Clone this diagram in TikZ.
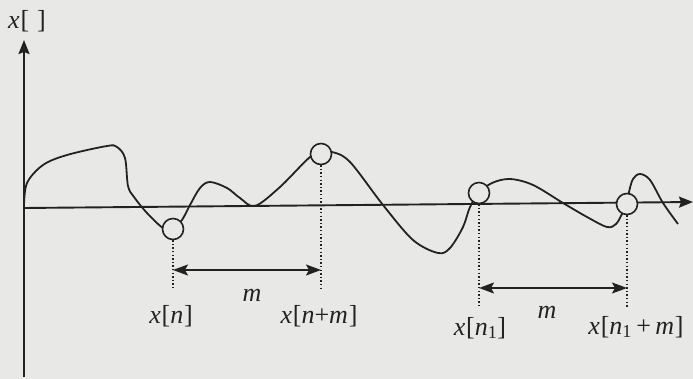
\documentclass[tikz,border=0pt]{standalone}
\usepackage{fontspec}
\setmainfont{Liberation Serif}
\usetikzlibrary{arrows.meta}
\definecolor{paper}{RGB}{232,232,230}
\definecolor{ink}{RGB}{34,34,34}
\newcommand{\vi}[1]{\textit{#1}\kern0.8pt}
\begin{document}
\begin{tikzpicture}[x=1pt,y=-1pt,
  axisline/.style={draw=ink,line width=1.9pt},
  curveline/.style={draw=ink,line width=1.8pt,line join=round},
  sample/.style={circle,draw=ink,line width=1.6pt,fill=paper,minimum size=21pt,inner sep=0pt},
  guide/.style={draw=ink,line width=1.4pt,dash pattern=on 1.4pt off 2.2pt},
  span/.style={draw=ink,line width=1.6pt,{Stealth[length=15pt,width=11pt,inset=3pt]}-{Stealth[length=15pt,width=11pt,inset=3pt]}},
  lab/.style={inner sep=0pt,text=ink,font=\fontsize{26}{30}\selectfont}
]
\fill[paper] (0,0) rectangle (693,379);
\useasboundingbox (0,0) rectangle (693,379);

% axes
\coordinate (o) at (24,208);
\coordinate (ybot) at (24,377);
\coordinate (ytop) at (24,40);
\coordinate (xend) at (693,202);
\draw[axisline,-{Stealth[length=14pt,width=11pt,inset=2pt]}] (ybot) -- (ytop);
\draw[axisline,-{Stealth[length=14pt,width=11pt,inset=2pt]}] (o) -- (xend);
\node[lab] (ylab) at (27,21) {\vi{x}[\hspace{8pt}]};

% signal curve
\draw[curveline] plot[smooth,tension=0.55] coordinates {
 (24,206) (27,183) (43,165) (67,155) (107,146) (117,147) (125,158) (128,186)
 (134,197) (147,213) (163,228) (173,229) (182,220) (190,205) (200,188) (210,182)
 (227,188) (240,198) (255,206) (280,187) (310,157) (321,154) (332,152) (350,162)
 (383,205) (413,240) (438,253) (450,248) (463,227) (470,207) (479,193) (492,183)
 (510,179) (533,185) (563,203) (587,217) (607,227) (616,224) (622,214) (627,204)
 (629,192) (633,179) (640,174) (650,180) (663,203) (678,224)};

% samples
\node[sample] (s1) at (173,229) {};
\node[sample] (s2) at (321,154) {};
\node[sample] (s3) at (479,193) {};
\node[sample] (s4) at (627,204) {};

% guides
\coordinate (g1) at (173,289);
\coordinate (g2) at (321,289);
\coordinate (g3) at (479,308);
\coordinate (g4) at (627,308);
\draw[guide] (s1.south) -- (g1);
\draw[guide] (s2.south) -- (g2);
\draw[guide] (s3.south) -- (g3);
\draw[guide] (s4.south) -- (g4);

% spans
\coordinate (a1) at (173,270);
\coordinate (b1) at (321,270);
\coordinate (a2) at (479,288);
\coordinate (b2) at (627,288);
\draw[span] (a1) -- (b1);
\draw[span] (a2) -- (b2);

% labels
\node[lab] (m1) at (252,295) {\textit{m}};
\node[lab] (m2) at (547,312) {\textit{m}};
\node[lab] (ln) at (171,316) {\vi{x}[\vi{n}]};
\node[lab] (lnm) at (319,316) {\vi{x}[\textit{n}+\vi{m}]};
\node[lab] (ln1) at (480,328) {\vi{x}[\textit{n}\textsubscript{1}]};
\node[lab] (ln1m) at (636,327) {\vi{x}[\textit{n}\textsubscript{1}\,+\,\vi{m}]};
\end{tikzpicture}
\end{document}
